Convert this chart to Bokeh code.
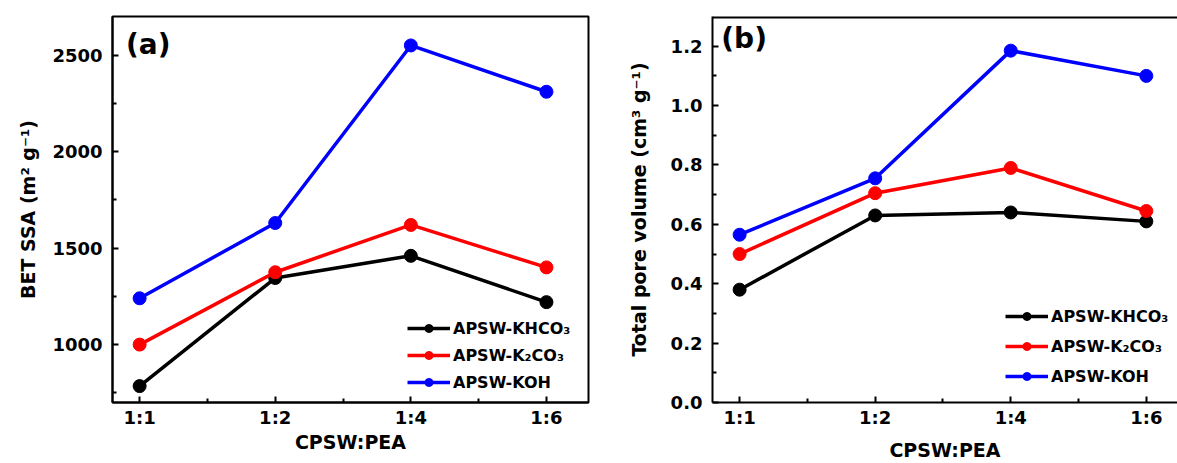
from bokeh.plotting import figure
from bokeh.layouts import row
from bokeh.models import FixedTicker, Range1d, Legend, LegendItem, Label, Span
from bokeh.embed import file_html
from bokeh.resources import INLINE

categories = ["1:1", "1:2", "1:4", "1:6"]
series_names = ["APSW-KHCO\u2083", "APSW-K\u2082CO\u2083", "APSW-KOH"]
colors = ["#000000", "#ff0000", "#0000ff"]

# (a) BET specific surface area, m2/g
ssa_khco3 = [785, 1345, 1460, 1220]
ssa_k2co3 = [1000, 1375, 1620, 1400]
ssa_koh = [1240, 1630, 2550, 2310]

# (b) Total pore volume, cm3/g
tpv_khco3 = [0.38, 0.63, 0.64, 0.61]
tpv_k2co3 = [0.50, 0.705, 0.79, 0.645]
tpv_koh = [0.565, 0.755, 1.185, 1.10]

FONT = "DejaVu Sans"
xs = list(range(len(categories)))


def style_axis(ax, major_ticks, minor_ticks):
    ax.ticker = FixedTicker(ticks=major_ticks, minor_ticks=minor_ticks)
    ax.axis_line_width = 2
    ax.major_tick_line_width = 2
    ax.minor_tick_line_width = 2
    ax.major_tick_in = 6
    ax.major_tick_out = 0
    ax.minor_tick_in = 4
    ax.minor_tick_out = 0
    ax.major_label_text_font = FONT
    ax.major_label_text_font_size = "18px"
    ax.major_label_text_font_style = "bold"
    ax.major_label_text_color = "#000000"
    ax.axis_label_text_font = FONT
    ax.axis_label_text_font_size = "19px"
    ax.axis_label_text_font_style = "bold"
    ax.axis_label_text_color = "#000000"


def make_panel(width, x_end, y_range, yticks, yminor, ylabel, ylabels_fmt, series,
               panel_label, label_pos, legend_loc, legend_spacing, xlabel_standoff,
               ylabel_standoff, full_outline, border_left, border_right):
    p = figure(width=width, height=463, output_backend="svg", toolbar_location=None,
               x_range=Range1d(-0.2, x_end), y_range=Range1d(*y_range),
               min_border_left=border_left, min_border_right=border_right,
               min_border_top=16, min_border_bottom=60)
    p.grid.visible = False
    p.background_fill_color = "white"
    p.border_fill_color = "white"
    if full_outline:
        p.outline_line_color = "black"
        p.outline_line_width = 2
    else:
        p.outline_line_color = None
        p.add_layout(Span(location=y_range[1], dimension="width",
                          line_color="black", line_width=4))

    xa = p.below[0]
    style_axis(xa, xs, [i + 0.5 for i in xs[:-1]])
    xa.major_label_overrides = {i: c for i, c in enumerate(categories)}
    xa.axis_label = "CPSW:PEA"
    xa.major_label_standoff = 4
    xa.axis_label_standoff = xlabel_standoff

    ya = p.left[0]
    style_axis(ya, yticks, yminor)
    ya.axis_label = ylabel
    ya.major_label_standoff = 10
    ya.axis_label_standoff = ylabel_standoff
    ya.major_label_overrides = {t: ylabels_fmt.format(t) for t in yticks}

    items = []
    for name, vals, col in zip(series_names, series, colors):
        ln = p.line(xs, vals, line_color=col, line_width=3.5)
        sc = p.scatter(xs, vals, size=13, fill_color=col, line_color=col, marker="circle")
        items.append(LegendItem(label=name, renderers=[ln, sc]))

    leg = Legend(items=items, location=legend_loc, border_line_color=None,
                 background_fill_alpha=0, padding=0, margin=0, spacing=legend_spacing,
                 glyph_width=43, glyph_height=20, label_height=20, label_standoff=3,
                 label_text_font=FONT, label_text_font_size="16px",
                 label_text_font_style="bold", label_text_color="#000000")
    p.add_layout(leg)

    p.add_layout(Label(x=label_pos[0], y=label_pos[1], text=panel_label,
                       text_font=FONT, text_font_size="28px", text_font_style="bold",
                       text_baseline="middle", text_align="left", text_color="#000000"))
    return p


pa = make_panel(608, 3.31, (700, 2700), [1000, 1500, 2000, 2500],
                [750, 1250, 1750, 2250],
                "BET SSA (m\u00b2 g\u207b\u00b9)", "{:.0f}",
                [ssa_khco3, ssa_k2co3, ssa_koh], "(a)", (-0.1, 2557),
                (295, 10), 7, 0, 10, True, 112, 20)

pb = make_panel(569, 3.23, (0, 1.3), [0.0, 0.2, 0.4, 0.6, 0.8, 1.0, 1.2],
                [0.1, 0.3, 0.5, 0.7, 0.9, 1.1],
                "Total pore volume (cm\u00b3 g\u207b\u00b9)", "{:.1f}",
                [tpv_khco3, tpv_k2co3, tpv_koh], "(b)", (-0.135, 1.226),
                (293, 16), 10, 8, 18, False, 104, 0)

layout = row(pa, pb)
open("out.html", "w").write(file_html(layout, INLINE))
